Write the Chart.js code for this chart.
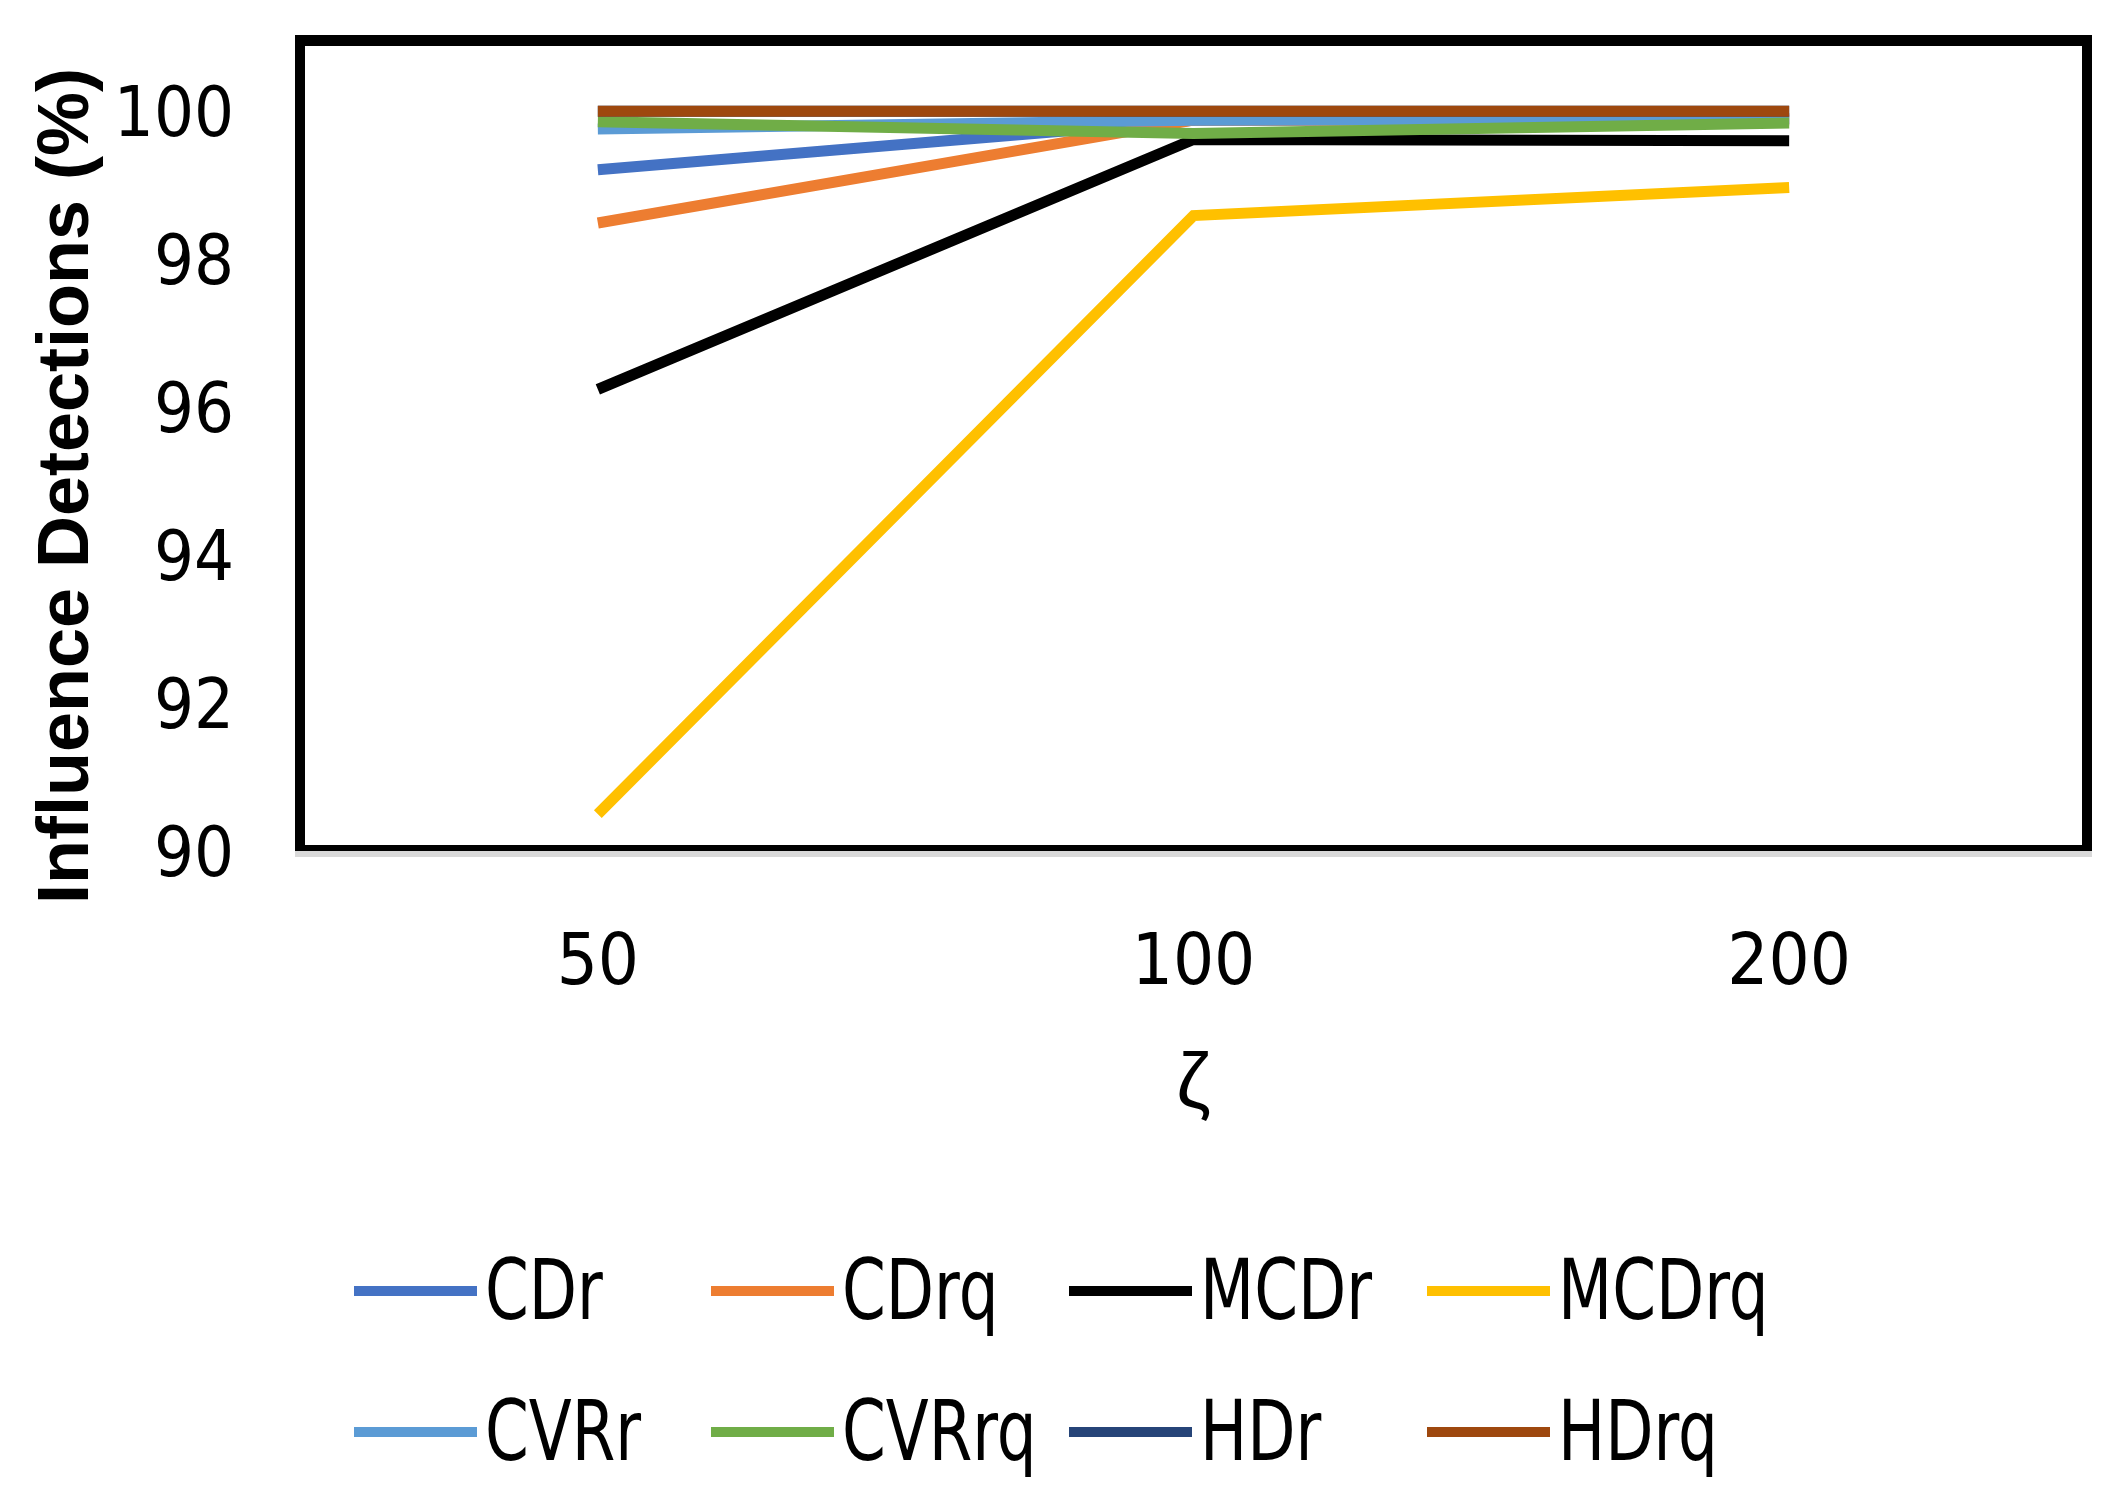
<!DOCTYPE html>
<html lang="en">
<head>
  <meta charset="UTF-8">
  <title>Influence Detections</title>
  <script src="https://cdn.jsdelivr.net/npm/chart.js"></script>
  <style>
    html, body { margin: 0; padding: 0; background: #fff; }
    #wrap { width: 2124px; height: 1508px; position: relative; }
  </style>
</head>
<body>
  <div id="wrap"><canvas id="lineChart"></canvas></div>
  <script>
    // categories (zeta)
    const zeta = ['50', '100', '200'];

    // series values (%)
    const cdr   = [99.21, 99.88, 99.90];
    const cdrq  = [98.49, 99.88, 99.88];
    const mcdr  = [96.24, 99.62, 99.60];
    const mcdrq = [90.50, 98.59, 98.97];
    const cvrr  = [99.76, 99.88, 99.90];
    const cvrrq = [99.86, 99.70, 99.84];
    const hdr   = [100, 100, 100];
    const hdrq  = [100, 100, 100];

    const seriesNames = ['CDr', 'CDrq', 'MCDr', 'MCDrq', 'CVRr', 'CVRrq', 'HDr', 'HDrq'];
    const seriesValues = [cdr, cdrq, mcdr, mcdrq, cvrr, cvrrq, hdr, hdrq];
    const seriesColors = ['#4472C4', '#ED7D31', '#000000', '#FFC000', '#5B9BD5', '#70AD47', '#264478', '#9E480E'];

    // y tick labels
    const yTicks = [90, 92, 94, 96, 98, 100];

    const narrow = '"Liberation Sans Narrow", "DejaVu Sans Condensed", "Liberation Sans", sans-serif';

    // no extra room for half labels at the ends of the axes
    function noEndPadding(scale) {
      scale.paddingTop = 0;
      scale.paddingBottom = 0;
      scale.paddingLeft = 0;
      scale.paddingRight = 0;
    }

    // box round the plot area, like the original
    const plotBox = {
      id: 'plotBox',
      afterDraw(chart) {
        const { ctx, chartArea: a } = chart;
        ctx.save();
        ctx.fillStyle = '#000';
        ctx.fillRect(a.left - 5, a.top - 6, a.right - a.left + 10, 11);   // top
        ctx.fillRect(a.left - 5, a.top - 6, 10, a.bottom - a.top + 6);    // left
        ctx.fillRect(a.right - 5, a.top - 6, 10, a.bottom - a.top + 6);   // right
        ctx.fillRect(a.left - 5, a.bottom - 6, a.right - a.left + 10, 6); // bottom
        ctx.fillStyle = '#d9d9d9';
        ctx.fillRect(a.left - 5, a.bottom, a.right - a.left + 10, 6);
        ctx.restore();
      }
    };

    // y title, placed a bit lower than centre as in the original
    const yTitle = {
      id: 'yTitle',
      afterDraw(chart) {
        const ctx = chart.ctx;
        ctx.save();
        ctx.translate(68, 486);
        ctx.rotate(-Math.PI / 2);
        ctx.font = 'bold 72px "Liberation Sans", Arial, sans-serif';
        ctx.fillStyle = '#000';
        ctx.textAlign = 'center';
        ctx.textBaseline = 'middle';
        ctx.fillText('Influence Detections (%)', 0, 0);
        ctx.restore();
      }
    };

    // legend in a 4 x 2 grid
    const gridLegend = {
      id: 'gridLegend',
      afterDraw(chart) {
        const ctx = chart.ctx;
        const colX = [354, 711, 1069, 1427];
        const rowY = [1291, 1432];
        ctx.save();
        ctx.font = '84px ' + narrow;
        ctx.textBaseline = 'middle';
        ctx.textAlign = 'left';
        chart.data.datasets.forEach((ds, i) => {
          const x = colX[i % 4];
          const y = rowY[Math.floor(i / 4)];
          ctx.fillStyle = ds.borderColor;
          ctx.fillRect(x, y - 5, 123, 10);
          ctx.fillStyle = '#000';
          ctx.save();
          ctx.translate(x + 131, y + 6);
          ctx.scale(0.83, 1);
          ctx.fillText(ds.label, 0, 0);
          ctx.restore();
        });
        ctx.restore();
      }
    };

    const ctx = document.getElementById('lineChart').getContext('2d');
    new Chart(ctx, {
      type: 'line',
      data: {
        labels: zeta,
        datasets: seriesNames.map((name, i) => ({
          label: name,
          data: seriesValues[i],
          borderColor: seriesColors[i],
          backgroundColor: seriesColors[i],
          borderWidth: 11,
          pointRadius: 0,
          tension: 0,
          fill: false,
          order: seriesNames.length - 1 - i
        }))
      },
      options: {
        responsive: true,
        maintainAspectRatio: false,
        devicePixelRatio: 1,
        animation: false,
        layout: { padding: { top: 41, right: 37, bottom: 375, left: 0 } },
        plugins: {
          legend: { display: false },
          tooltip: { enabled: false }
        },
        scales: {
          x: {
            offset: true,
            grid: { display: false, drawTicks: false },
            border: { display: false },
            ticks: {
              padding: 71,
              color: '#000',
              font: { size: 72, family: narrow }
            },
            title: {
              display: true,
              text: 'ζ',
              color: '#000',
              padding: 0,
              font: { size: 78, family: '"Liberation Sans", sans-serif' }
            },
            afterFit(scale) { scale.height = 282; noEndPadding(scale); }
          },
          y: {
            min: 90,
            max: 100.95,
            grid: { display: false, drawTicks: false },
            border: { display: false },
            afterBuildTicks(scale) {
              scale.ticks = yTicks.map(v => ({ value: v }));
            },
            ticks: {
              padding: 66,
              labelOffset: 7,
              color: '#000',
              font: { size: 70, family: narrow }
            },
            afterFit(scale) { scale.width = 300; noEndPadding(scale); }
          }
        }
      },
      plugins: [plotBox, yTitle, gridLegend]
    });
  </script>
</body>
</html>
